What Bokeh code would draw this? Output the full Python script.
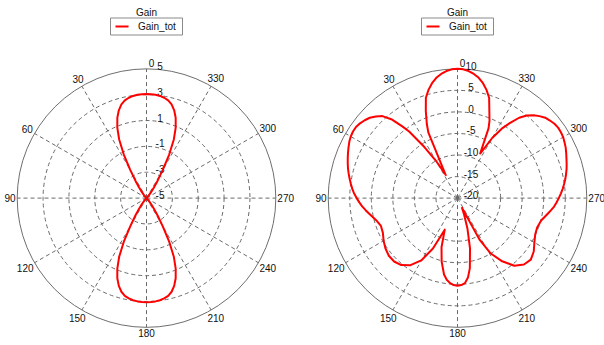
import numpy as np
from bokeh.plotting import figure
from bokeh.models import Range1d
from bokeh.embed import file_html
from bokeh.resources import INLINE
from bokeh.core.properties import value

# ---------------- data ----------------
title_text = "Gain"
legend_label = "Gain_tot"
angle_ticks = [0, 30, 60, 90, 120, 150, 180, 210, 240, 270, 300, 330]
left_rticks = [-5, -3, -1, 1, 3, 5]
right_rticks = [-20, -15, -10, -5, 0, 5, 10]

left_angles = [0, 2.5, 5, 7.5, 10, 12.5, 15, 17.5, 20, 22.5, 25, 27.5, 30, 32.5, 35, 37.5, 40, 42.5, 45,
               50, 55, 60, 65, 70, 75, 80, 85, 90, 95, 100, 105, 110, 115, 120, 125, 130,
               135, 137.5, 140, 142.5, 145, 147.5, 150, 152.5, 155, 157.5, 160, 162.5, 165, 167.5, 170, 172.5, 175, 177.5,
               180, 182.5, 185, 187.5, 190, 192.5, 195, 197.5, 200, 202.5, 205, 207.5, 210, 212.5, 215, 217.5, 220, 222.5, 225,
               230, 235, 240, 245, 250, 255, 260, 265, 270, 275, 280, 285, 290, 295, 300, 305, 310,
               315, 317.5, 320, 322.5, 325, 327.5, 330, 332.5, 335, 337.5, 340, 342.5, 345, 347.5, 350, 352.5, 355, 357.5]
left_gain = [3.05, 3.04, 3.02, 2.97, 2.88, 2.74, 2.5, 2.12, 1.6, 0.9, 0.0, -1.2, -2.5, -3.4, -4.0, -4.4, -4.7, -4.9, -5.0,
             -5.0, -5.0, -5.0, -5.0, -5.0, -5.0, -5.0, -5.0, -5.0, -5.0, -5.0, -5.0, -5.0, -5.0, -5.0, -5.0, -5.0,
             -5.0, -4.9, -4.7, -4.4, -4.0, -3.4, -2.5, -1.2, 0.0, 0.9, 1.6, 2.12, 2.5, 2.74, 2.88, 2.97, 3.02, 3.04,
             3.05, 3.04, 3.02, 2.97, 2.88, 2.74, 2.5, 2.12, 1.6, 0.9, 0.0, -1.2, -2.5, -3.4, -4.0, -4.4, -4.7, -4.9, -5.0,
             -5.0, -5.0, -5.0, -5.0, -5.0, -5.0, -5.0, -5.0, -5.0, -5.0, -5.0, -5.0, -5.0, -5.0, -5.0, -5.0, -5.0,
             -5.0, -4.9, -4.7, -4.4, -4.0, -3.4, -2.5, -1.2, 0.0, 0.9, 1.6, 2.12, 2.5, 2.74, 2.88, 2.97, 3.02, 3.04]

right_angles = [0, 2.5, 5, 7.5, 10, 12.5, 15, 17.5, 20, 22.5, 24, 27, 30, 33, 36, 37.5,
                40, 42.5, 45, 47.5, 50, 52.5, 55, 57.5, 60, 62.5, 65, 67.5, 70, 72.5, 75, 77.5,
                80, 82.5, 85, 87.5, 90, 92.5, 95, 97.5, 100, 105, 110, 115, 120, 125, 130, 135,
                140, 145, 150, 154, 158, 162, 166, 170, 172.5, 175, 177.5, 180, 182.5, 185, 187.5, 190,
                194, 198, 202, 205, 208, 211, 215, 220, 225, 230, 235, 240, 245, 250, 255, 260,
                262.5, 265, 267.5, 270, 272.5, 275, 277.5, 280, 282.5, 285, 287.5, 290, 292.5, 295, 297.5, 300,
                302.5, 305, 307.5, 310, 312.5, 315, 317.5, 320, 322.5, 325, 327.5, 330, 333, 336, 337.5, 340,
                342.5, 345, 347.5, 350, 352.5, 355, 357.5]
right_gain = [10.0, 9.9, 9.6, 9.05, 8.35, 7.3, 6.0, 4.4, 1.5, -1.4, -3.4, -14.0, -10.0, -5.8, -0.9, 0.9,
              3.9, 5.8, 6.8, 7.6, 8.1, 8.5, 8.75, 8.75, 8.6, 8.3, 7.9, 7.5, 7.1, 6.7, 6.3, 5.85,
              5.4, 4.95, 4.5, 4.0, 3.4, 2.8, 2.2, 1.5, 0.8, -0.4, -1.1, -0.9, -0.2, 0.4, 0.8, 0.8,
              0.3, -1.0, -3.4, -7.0, -12.1, -8.0, -4.8, -2.0, -0.9, -0.2, 0.2, 0.35, 0.2, -0.2, -1.4, -3.5,
              -8.0, -12.5, -16.0, -17.5, -9.0, -5.0, -2.2, 0.5, 1.8, 2.2, 1.6, 0.6, -0.1, -0.3, 0.1, 1.2,
              1.85, 2.5, 3.0, 3.5, 4.0, 4.5, 4.95, 5.4, 5.8, 6.2, 6.55, 6.9, 7.3, 7.7, 8.0, 8.3,
              8.45, 8.5, 8.35, 8.0, 7.6, 6.9, 6.1, 5.0, 3.5, 1.3, -0.9, -3.9, -8.4, -2.3, -0.6, 1.6,
              4.4, 6.0, 7.3, 8.35, 9.05, 9.6, 9.9]

# ---------------- layout ----------------
W, H = 604, 345
OX, OY = 0, 0
R = 129.3
FONT = value("Liberation Sans")
FS = "10px"
TXT = "#111111"
GRID = "#6a6a6a"

p = figure(width=W, height=H, x_range=Range1d(OX, OX + W), y_range=Range1d(OY + H, OY),
           output_backend="svg", toolbar_location=None, min_border=0,
           x_axis_type=None, y_axis_type=None)
p.grid.visible = False
p.outline_line_color = None
p.background_fill_color = "white"
p.border_fill_color = "white"


def draw_panel(cx, cy, rticks, angles, gains):
    rmin, rmax = rticks[0], rticks[-1]

    def rad(v):
        return (np.clip(np.asarray(v, float), rmin, rmax) - rmin) / (rmax - rmin) * R

    # dashed rings
    ring_r = [float(rad(t)) for t in rticks[1:-1]]
    p.circle(x=[cx] * len(ring_r), y=[cy] * len(ring_r), radius=ring_r,
             fill_color=None, line_color=GRID, line_dash="4 3", line_width=1)
    # dashed spokes
    th = np.deg2rad(angle_ticks)
    p.segment(x0=[cx] * len(th), y0=[cy] * len(th),
              x1=list(cx - R * np.sin(th)), y1=list(cy - R * np.cos(th)),
              line_color=GRID, line_dash="4 3", line_width=1)
    # outer circle
    p.circle(x=[cx], y=[cy], radius=[R], fill_color=None, line_color="#6e6e6e", line_width=1)

    # angle labels
    lx, ly, lt = [], [], []
    for a in angle_ticks:
        t = np.deg2rad(a)
        s = str(a)
        hw, hh = 2.8 * len(s), 4.0
        d = R + 1.5 + hw * abs(np.sin(t)) + hh * abs(np.cos(t))
        x = cx - d * np.sin(t)
        if a == 0:
            x += 5
        x = max(x, OX + hw + 1)
        lx.append(float(x))
        ly.append(float(cy - d * np.cos(t)))
        lt.append(s)
    p.text(x=lx, y=ly, text=lt, text_align="center", text_baseline="middle",
           text_font=FONT, text_font_size=FS, text_color=TXT)

    # radial labels
    rx = [cx + 13.5] * len(rticks)
    ry = [float(cy - rad(t) - 3) for t in rticks]
    p.text(x=rx, y=ry, text=[str(t) for t in rticks], text_align="center", text_baseline="middle",
           text_font=FONT, text_font_size=FS, text_color=TXT)

    # data curve
    a = np.deg2rad(np.array(list(angles) + [angles[0]], float))
    r = rad(list(gains) + [gains[0]])
    p.line(x=list(cx - r * np.sin(a)), y=list(cy - r * np.cos(a)),
           line_color="#ff0000", line_width=2, line_join="round")

    # title
    p.text(x=[cx], y=[12], text=[title_text], text_align="center", text_baseline="alphabetic",
           text_font=FONT, text_font_size=FS, text_color=TXT)
    # legend
    p.rect(x=[cx], y=[26], width=72, height=17, fill_color="white", line_color="#8a8a8a", line_width=1)
    p.segment(x0=[cx - 31], y0=[26], x1=[cx - 18], y1=[26], line_color="#ff0000", line_width=2)
    p.text(x=[cx - 8.5], y=[26], text=[legend_label], text_align="left", text_baseline="middle",
           text_font=FONT, text_font_size=FS, text_color=TXT)


draw_panel(146.0, 197.6, left_rticks, left_angles, left_gain)
draw_panel(457.0, 197.6, right_rticks, right_angles, right_gain)

open("out.html", "w").write(file_html(p, INLINE))
